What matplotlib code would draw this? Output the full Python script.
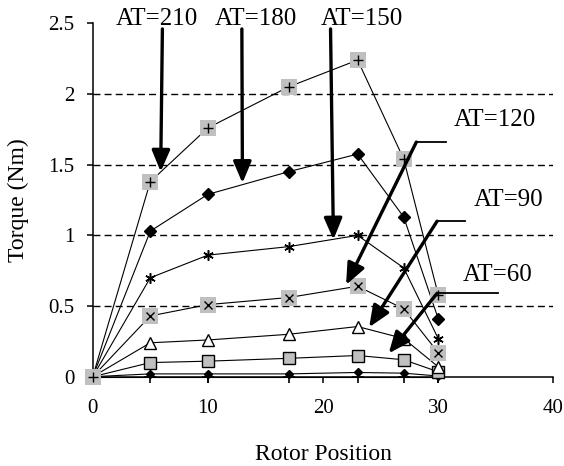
import matplotlib

matplotlib.use("Agg")

from matplotlib import pyplot as plt
from matplotlib.patches import FancyArrowPatch

# rotor position samples shared by every curve
rotor_position = [0, 5, 10, 17, 23, 27, 30]

# torque (Nm) per ampere-turn level
torque_at210 = [0, 1.38, 1.76, 2.05, 2.24, 1.54, 0.58]
torque_at180 = [0, 1.03, 1.29, 1.45, 1.575, 1.13, 0.41]
torque_at150 = [0, 0.70, 0.86, 0.92, 1.00, 0.77, 0.27]
torque_at120 = [0, 0.43, 0.51, 0.56, 0.64, 0.48, 0.17]
torque_at90 = [0, 0.24, 0.26, 0.30, 0.355, 0.27, 0.07]
torque_at60 = [0, 0.10, 0.11, 0.13, 0.15, 0.12, 0.035]
torque_at30 = [0, 0.02, 0.02, 0.02, 0.03, 0.025, 0.005]
torque_at0 = [0, 0, 0, 0, 0, 0, 0]

# arrow annotations: straight ones hang from the top labels,
# leader ones go label -> horizontal stub -> elbow -> tip
straight_labels = ["AT=210", "AT=180", "AT=150"]
straight_label_x = [5.6, 14.2, 23.4]
straight_start = [(6.05, 2.46), (12.95, 2.46), (20.65, 2.46)]
straight_tip = [(5.9, 1.45), (13.0, 1.37), (20.9, 0.97)]

leader_labels = ["AT=120", "AT=90", "AT=60"]
leader_label_pos = [(34.9, 1.815), (36.1, 1.25), (35.2, 0.72)]
leader_end_x = [30.7, 32.3, 35.2]
leader_elbow = [(28.1, 1.66), (29.9, 1.10), (29.9, 0.59)]
leader_tip = [(22.0, 0.65), (24.0, 0.35), (25.7, 0.165)]

SERIF = "Liberation Serif"
GRAY = "#c0c0c0"


def draw_series(axis):
    line_kw = dict(color="black", linewidth=0.8, clip_on=False)

    axis.plot(rotor_position, torque_at0, marker="+", markersize=9, markeredgewidth=1.2, zorder=3, **line_kw)
    axis.plot(rotor_position, torque_at30, marker="D", markersize=4, markerfacecolor="black", zorder=3, **line_kw)
    axis.plot(rotor_position, torque_at60, marker="s", markersize=8.4, markerfacecolor=GRAY,
              markeredgecolor="black", markeredgewidth=1.0, zorder=4, **line_kw)
    axis.plot(rotor_position, torque_at90, marker="^", markersize=8.5, markerfacecolor="white",
              markeredgecolor="black", markeredgewidth=1.0, zorder=4, **line_kw)
    axis.plot(rotor_position, torque_at120, marker="s", markersize=12, markerfacecolor=GRAY,
              markeredgewidth=0, zorder=4, **line_kw)
    axis.plot(rotor_position, torque_at120, linestyle="none", marker="x", markersize=6,
              color="black", markeredgewidth=1.0, zorder=4, clip_on=False)
    axis.plot(rotor_position, torque_at150, marker=(6, 2, 0), markersize=7.5, markeredgewidth=1.1, zorder=4, **line_kw)
    axis.plot(rotor_position, torque_at180, marker="D", markersize=6, markerfacecolor="black", zorder=4, **line_kw)
    axis.plot(rotor_position, torque_at210, marker="s", markersize=12, markerfacecolor=GRAY,
              markeredgewidth=0, zorder=5, **line_kw)
    axis.plot(rotor_position, torque_at210, linestyle="none", marker="+", markersize=7,
              color="black", markeredgewidth=1.0, zorder=5, clip_on=False)


def draw_arrow(axis, start, tip):
    arrow = FancyArrowPatch(
        start,
        tip,
        arrowstyle="-|>,head_length=1.3,head_width=0.55",
        mutation_scale=10,
        linewidth=2.4,
        color="black",
        shrinkA=0,
        shrinkB=0,
        zorder=6,
    )
    axis.add_patch(arrow)


def draw_annotations(axis):
    for label, x_pos, start, tip in zip(straight_labels, straight_label_x, straight_start, straight_tip):
        axis.text(x_pos, 2.53, label, fontsize=18, family=SERIF, ha="center", va="center")
        draw_arrow(axis, start, tip)

    for label, pos, end_x, elbow, tip in zip(leader_labels, leader_label_pos, leader_end_x, leader_elbow, leader_tip):
        axis.text(pos[0], pos[1], label, fontsize=18, family=SERIF, ha="center", va="center")
        axis.plot([elbow[0], end_x], [elbow[1], elbow[1]], color="black", linewidth=1.3, zorder=6, clip_on=False)
        draw_arrow(axis, elbow, tip)


def main() -> None:
    figure = plt.figure(figsize=(5.64, 4.66), dpi=100)
    axis = figure.add_axes([0.1644, 0.1916, 0.8168, 0.7584])

    draw_series(axis)
    draw_annotations(axis)

    axis.set_xlim(0, 40)
    axis.set_ylim(0, 2.5)
    axis.set_xticks([0, 10, 20, 30, 40])
    axis.set_yticks([0, 0.5, 1, 1.5, 2, 2.5])
    axis.set_yticklabels(["0", "0.5", "1", "1.5", "2", "2.5"])
    for value in [0.5, 1.0, 1.5, 2.0]:
        axis.axhline(value, color="black", linewidth=1.0, dashes=(5, 3), zorder=1)

    for side in ["top", "right"]:
        axis.spines[side].set_visible(False)
    for side in ["left", "bottom"]:
        axis.spines[side].set_linewidth(1.1)
    axis.tick_params(direction="out", length=4, width=1.1, labelsize=15)
    axis.tick_params(axis="x", pad=12)
    axis.tick_params(axis="y", pad=9)
    for tick_label in axis.get_xticklabels() + axis.get_yticklabels():
        tick_label.set_family(SERIF)

    axis.set_xlabel("Rotor Position", fontsize=17, family=SERIF, labelpad=19)
    axis.set_ylabel("Torque (Nm)", fontsize=17, family=SERIF, labelpad=14)

    figure.savefig("out.png", dpi=100)
    plt.close(figure)


if __name__ == "__main__":
    main()
